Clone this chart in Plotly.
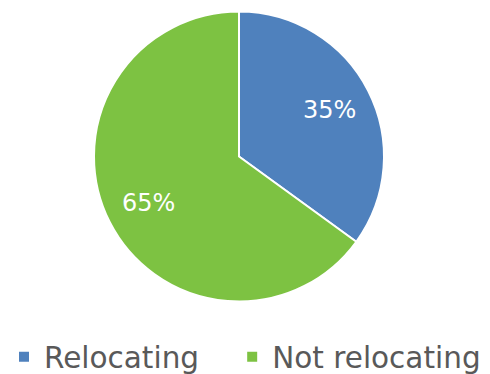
import math
import plotly.graph_objects as go

labels = ["Relocating", "Not relocating"]
values = [35, 65]
colors = ["#4F81BD", "#7DC242"]

FONT = "DejaVu Sans"
dom_x = [94/490, 384/490]
dom_y = [1-302/374, 1-11/374]

# legend entries get a little trailing (non-breaking) space to widen the gap between items
legend_labels = [labels[0] + "\u00a0\u00a0\u00a0", labels[1]]

fig = go.Figure(go.Pie(
    labels=legend_labels,
    values=values,
    sort=False,
    direction="clockwise",
    rotation=0,
    marker=dict(colors=colors, line=dict(color="white", width=2)),
    textinfo="none",
    hoverinfo="label+percent",
    domain=dict(x=dom_x, y=dom_y),
))

# place labels at 70% of radius along each slice's mid-angle (computed from data)
W, H = 490, 374
cx = (dom_x[0] + dom_x[1]) / 2 * W
cy = (dom_y[0] + dom_y[1]) / 2 * H
R = min((dom_x[1]-dom_x[0]) * W, (dom_y[1]-dom_y[0]) * H) / 2
total = sum(values)
cum = 0
for v in values:
    mid = (cum + v / 2) / total * 2 * math.pi
    cum += v
    px = cx + 0.70 * R * math.sin(mid)
    py = cy + 0.70 * R * math.cos(mid)
    fig.add_annotation(
        x=px / W, y=py / H, xref="paper", yref="paper",
        xanchor="center", yanchor="middle",
        text=f"{v}%", showarrow=False,
        font=dict(color="white", size=24, family=FONT),
    )

fig.update_layout(
    width=W, height=H,
    margin=dict(l=0, r=0, t=0, b=0, autoexpand=False),
    paper_bgcolor="white",
    plot_bgcolor="white",
    font=dict(family=FONT, color="#595959"),
    legend=dict(
        orientation="h",
        x=0.5, xanchor="center",
        y=1 - 357/374, yanchor="middle",
        font=dict(size=29.5, color="#595959", family=FONT),
        itemwidth=30,
    ),
)

fig.write_html("out.html")
